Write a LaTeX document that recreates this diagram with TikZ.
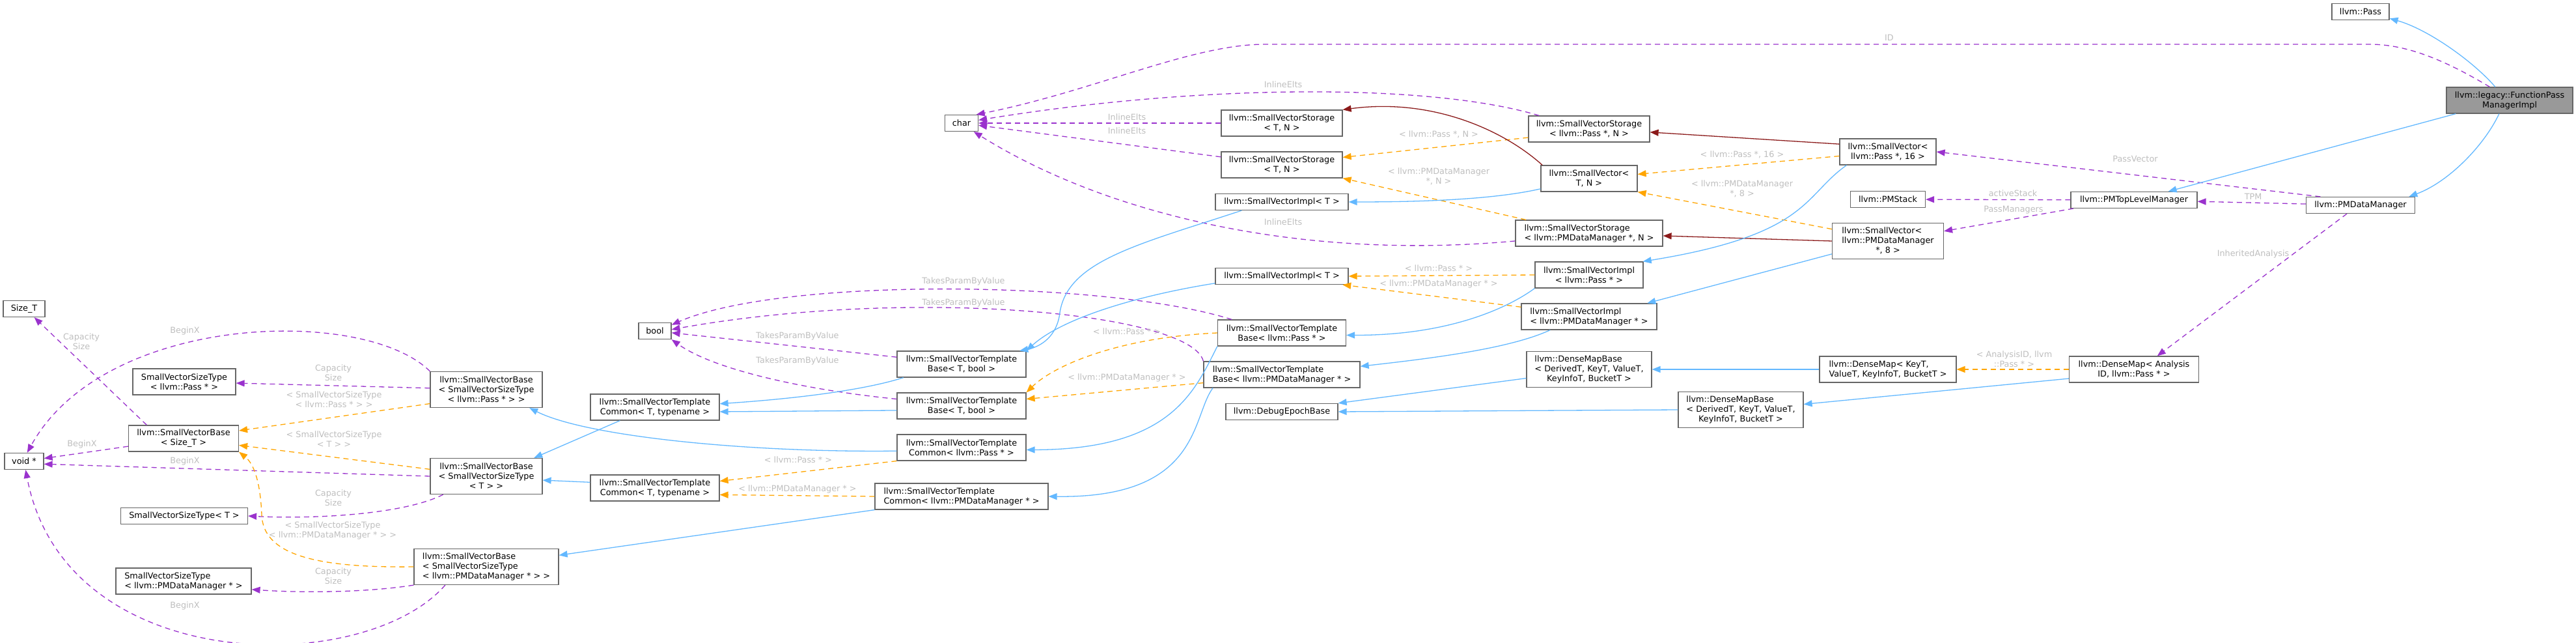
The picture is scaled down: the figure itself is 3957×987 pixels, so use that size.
\documentclass[tikz,border=0pt]{standalone}
\usepackage{fontspec}
\setmainfont{DejaVu Sans}
\usepackage{tikz}
\usetikzlibrary{arrows.meta}
\usepackage{xcolor}
\definecolor{inheritBlue}{RGB}{99, 184, 255}
\definecolor{usagePurple}{RGB}{154, 50, 205}
\definecolor{templOrange}{RGB}{255, 165, 0}
\definecolor{privateRed}{RGB}{139, 26, 26}
\definecolor{labelGray}{RGB}{190, 190, 190}
\definecolor{borderGray}{RGB}{102, 102, 102}
\definecolor{rootGray}{RGB}{153, 153, 153}
\newcommand{\docfont}{\fontsize{12.8}{15}\selectfont}
\newcommand{\lstack}[1]{\begin{tabular}{@{}l@{}}#1\end{tabular}}
\newcommand{\ctrrow}[1]{\multicolumn{1}{@{}c@{}}{#1}}

\begin{document}
\begin{tikzpicture}[
    x=1pt, y=1pt,
    cls/.style={
        rectangle, draw=borderGray, fill=white, line width=1.2pt, inner sep=1pt,
        align=center, font=\docfont, minimum width=#1, minimum height=25pt
    },
    twoline/.style={minimum height=40pt},
    threeline/.style={minimum height=55pt},
    lft/.style={align=left},
    arrow/.style={-{Triangle[length=13pt, width=10pt]}, line width=1.3pt, draw=#1},
    dep/.style={arrow=#1, dash pattern=on 8pt off 6pt},
    annot/.style={font=\docfont, text=labelGray, align=center, inner sep=0pt}
]
\useasboundingbox (0,0) rectangle (3957,-987);
\node[cls=64pt] (sizeT) at (37,-474) {Size\_T};
\node[cls=60pt] (voidPtr) at (37,-708) {void *};
\node[cls=158pt, twoline] (svstPass) at (283,-586) {SmallVectorSizeType\\< llvm::Pass * >};
\node[cls=169pt, twoline] (svbSizeT) at (282,-673) {llvm::SmallVectorBase\\< Size\_T >};
\node[cls=195pt] (svstT) at (283,-792) {SmallVectorSizeType< T >};
\node[cls=208pt, twoline, lft] (svstPMDM) at (282,-892) {SmallVectorSizeType\\< llvm::PMDataManager * >};
\node[cls=172pt, threeline] (svbPass) at (747,-598) {llvm::SmallVectorBase\\< SmallVectorSizeType\\< llvm::Pass * > >};
\node[cls=172pt, threeline] (svbT) at (747,-731) {llvm::SmallVectorBase\\< SmallVectorSizeType\\< T > >};
\node[cls=222pt, threeline, lft] (svbPMDM) at (747,-870) {llvm::SmallVectorBase\\< SmallVectorSizeType\\< llvm::PMDataManager * > >};
\node[cls=50pt] (boolT) at (1006,-508) {bool};
\node[cls=198pt, twoline] (svtcUpper) at (1006,-625) {llvm::SmallVectorTemplate\\Common< T, typename >};
\node[cls=198pt, twoline] (svtcLower) at (1006,-749) {llvm::SmallVectorTemplate\\Common< T, typename >};
\node[cls=51pt] (charT) at (1477,-189) {char};
\node[cls=198pt, twoline] (svtbUpper) at (1477,-559) {llvm::SmallVectorTemplate\\Base< T, bool >};
\node[cls=198pt, twoline] (svtbLower) at (1477,-623) {llvm::SmallVectorTemplate\\Base< T, bool >};
\node[cls=198pt, twoline] (svtcPass) at (1477,-687) {llvm::SmallVectorTemplate\\Common< llvm::Pass * >};
\node[cls=266pt, twoline, lft] (svtcPMDM) at (1477,-762) {llvm::SmallVectorTemplate\\Common< llvm::PMDataManager * >};
\node[cls=186pt, twoline] (storUpper) at (1969,-189) {llvm::SmallVectorStorage\\< T, N >};
\node[cls=186pt, twoline] (storLower) at (1969,-253) {llvm::SmallVectorStorage\\< T, N >};
\node[cls=204pt] (implUpper) at (1969,-310) {llvm::SmallVectorImpl< T >};
\node[cls=204pt] (implLower) at (1969,-424) {llvm::SmallVectorImpl< T >};
\node[cls=197pt, twoline] (svtbPass) at (1969,-511) {llvm::SmallVectorTemplate\\Base< llvm::Pass * >};
\node[cls=240pt, twoline, lft] (svtbPMDM) at (1969,-575) {llvm::SmallVectorTemplate\\Base< llvm::PMDataManager * >};
\node[cls=172pt] (debugEpoch) at (1969,-632) {llvm::DebugEpochBase};
\node[cls=186pt, twoline] (storPass) at (2441,-198) {llvm::SmallVectorStorage\\< llvm::Pass *, N >};
\node[cls=148pt, twoline] (svTN) at (2441,-274) {llvm::SmallVector<\\T, N >};
\node[cls=226pt, twoline, lft] (storPMDM) at (2441,-358) {llvm::SmallVectorStorage\\< llvm::PMDataManager *, N >};
\node[cls=166pt, twoline] (implPass) at (2441,-422) {llvm::SmallVectorImpl\\< llvm::Pass * >};
\node[cls=208pt, twoline, lft] (implPMDM) at (2441,-486) {llvm::SmallVectorImpl\\< llvm::PMDataManager * >};
\node[cls=192pt, threeline] (mapBaseUpper) at (2441,-567) {\lstack{llvm::DenseMapBase\\< DerivedT, KeyT, ValueT,\\\ctrrow{KeyInfoT, BucketT >}}};
\node[cls=192pt, threeline] (mapBaseLower) at (2674,-629) {\lstack{llvm::DenseMapBase\\< DerivedT, KeyT, ValueT,\\\ctrrow{KeyInfoT, BucketT >}}};
\node[cls=148pt, twoline] (sv16) at (2900,-233) {llvm::SmallVector<\\llvm::Pass *, 16 >};
\node[cls=115pt] (pmStack) at (2900,-306) {llvm::PMStack};
\node[cls=171pt, threeline] (sv8) at (2900,-370) {\lstack{llvm::SmallVector<\\\ctrrow{llvm::PMDataManager}\\\ctrrow{*, 8 >}}};
\node[cls=210pt, twoline, lft] (mapKey) at (2900,-567) {llvm::DenseMap< KeyT,\\ValueT, KeyInfoT, BucketT >};
\node[cls=194pt] (pmTop) at (3278,-307) {llvm::PMTopLevelManager};
\node[cls=199pt, twoline] (mapAID) at (3278,-567) {llvm::DenseMap< Analysis\\ID, llvm::Pass * >};
\node[cls=88pt] (passT) at (3626,-18) {llvm::Pass};
\node[cls=167pt] (pmData) at (3626,-315) {llvm::PMDataManager};
\node[cls=194pt, twoline, fill=rootGray] (fpmi) at (3855,-154) {llvm::legacy::FunctionPass\\ManagerImpl};
\draw[dep=usagePurple] (fpmi.146) .. controls (3760,-95) and (3700,-68) .. (3640,-68) -- (1943,-68) .. controls (1830,-68) and (1680,-140) .. (charT.30) node[annot] at (2902,-58) {ID};
\draw[dep=usagePurple] (storPass.165) .. controls (2200,-128) and (1850,-128) .. (charT.10) node[annot] at (1971,-130) {InlineElts};
\draw[dep=usagePurple] (storUpper.west) -- (charT.east) node[annot] at (1731,-180) {InlineElts};
\draw[dep=usagePurple] (storLower) -- (charT) node[annot] at (1731,-201) {InlineElts};
\draw[dep=usagePurple] (storPMDM.186) .. controls (2000,-400) and (1700,-330) .. (charT.-35) node[annot] at (1971,-341) {InlineElts};
\draw[dep=usagePurple] (svtbPass.165) .. controls (1700,-430) and (1200,-425) .. (boolT.20) node[annot] at (1480,-432) {TakesParamByValue};
\draw[dep=usagePurple] (svtbPMDM.north west) .. controls (1830,-480) and (1400,-440) .. (boolT.5) node[annot] at (1480,-465) {TakesParamByValue};
\draw[dep=usagePurple] (svtbUpper) -- (boolT) node[annot] at (1225,-516) {TakesParamByValue};
\draw[dep=usagePurple] (svtbLower.174) .. controls (1250,-600) and (1100,-570) .. (boolT.south east) node[annot] at (1225,-554) {TakesParamByValue};
\draw[dep=usagePurple] (svbPass.north west) .. controls (560,-470) and (160,-480) .. (voidPtr.70) node[annot] at (284,-508) {BeginX};
\draw[dep=usagePurple] (svbSizeT) -- (voidPtr) node[annot] at (126,-682) {BeginX};
\draw[dep=usagePurple] (svbT.west) -- (voidPtr.-8) node[annot] at (284,-708) {BeginX};
\draw[dep=usagePurple] (svbPMDM.204) .. controls (560,-1040) and (100,-1040) .. (voidPtr.-80) node[annot] at (284,-930) {BeginX};
\draw[dep=usagePurple] (svbSizeT.160) -- (sizeT.-40) node[annot] at (125,-524) {Capacity\\Size};
\draw[dep=usagePurple] (svbPass) -- (svstPass) node[annot] at (512,-572) {Capacity\\Size};
\draw[dep=usagePurple] (svbT.203) .. controls (620,-790) and (480,-797) .. (svstT.east) node[annot] at (512,-764) {Capacity\\Size};
\draw[dep=usagePurple] (svbPMDM.south west) .. controls (560,-910) and (460,-910) .. (svstPMDM.-7) node[annot] at (512,-884) {Capacity\\Size};
\draw[dep=usagePurple] (pmData.168) -- (sv16.east) node[annot] at (3280,-244) {PassVector};
\draw[dep=usagePurple] (pmTop) -- (pmStack) node[annot] at (3092,-297) {activeStack};
\draw[dep=usagePurple] (pmTop.188) -- (sv8.10) node[annot] at (3093,-322) {PassManagers};
\draw[dep=usagePurple] (pmData) -- (pmTop) node[annot] at (3461,-302) {TPM};
\draw[dep=usagePurple] (pmData.212) -- (mapAID.30) node[annot] at (3461,-390) {InheritedAnalysis};
\draw[dep=templOrange] (svbPass.194) -- (svbSizeT.8) node[annot] at (513,-613) {< SmallVectorSizeType\\< llvm::Pass * > >};
\draw[dep=templOrange] (svbT.173) -- (svbSizeT.-7) node[annot] at (513,-674) {< SmallVectorSizeType\\< T > >};
\draw[dep=templOrange] (svbPMDM.west) .. controls (480,-872) and (404,-850) .. (402,-790) .. controls (400,-740) and (390,-712) .. (svbSizeT.south east) node[annot] at (511,-814) {< SmallVectorSizeType\\< llvm::PMDataManager * > >};
\draw[dep=templOrange] (svtcPass.south west) -- (svtcLower.6) node[annot] at (1226,-706) {< llvm::Pass * >};
\draw[dep=templOrange] (svtcPMDM.west) -- (svtcLower.-6) node[annot] at (1225,-751) {< llvm::PMDataManager * >};
\draw[dep=templOrange] (svtbPass.west) .. controls (1720,-518) and (1620,-560) .. (svtbLower.north east) node[annot] at (1731,-509) {< llvm::Pass * >};
\draw[dep=templOrange] (svtbPMDM.186) -- (svtbLower.6) node[annot] at (1731,-580) {< llvm::PMDataManager * >};
\draw[dep=templOrange] (implPass.west) -- (implLower.east) node[annot] at (2210,-412) {< llvm::Pass * >};
\draw[dep=templOrange] (implPMDM.172) -- (implLower.-8) node[annot] at (2210,-436) {< llvm::PMDataManager * >};
\draw[dep=templOrange] (storPass.188) -- (storLower.7) node[annot] at (2210,-206) {< llvm::Pass *, N >};
\draw[dep=templOrange] (storPMDM.168) -- (storLower.south east) node[annot] at (2210,-271) {< llvm::PMDataManager\\*, N >};
\draw[dep=templOrange] (sv16.185) -- (svTN.5) node[annot] at (2676,-237) {< llvm::Pass *, 16 >};
\draw[dep=templOrange] (sv8.168) -- (svTN.south east) node[annot] at (2676,-290) {< llvm::PMDataManager\\*, 8 >};
\draw[dep=templOrange] (mapAID.west) -- (mapKey.east) node[annot] at (3094,-551) {< AnalysisID, llvm\\::Pass * >};
\draw[arrow=privateRed] (svTN.164) .. controls (2310,-200) and (2200,-150) .. (storUpper.north east);
\draw[arrow=privateRed] (sv16.171) -- (storPass.-3);
\draw[arrow=privateRed] (sv8.west) -- (storPMDM.-2);
\draw[arrow=inheritBlue] (fpmi.137) .. controls (3800,-95) and (3730,-45) .. (passT.-13);
\draw[arrow=inheritBlue] (fpmi.194) -- (pmTop.14);
\draw[arrow=inheritBlue] (fpmi.232) .. controls (3815,-225) and (3760,-280) .. (pmData.10);
\draw[arrow=inheritBlue] (svTN.192) .. controls (2300,-305) and (2200,-310) .. (implUpper.east);
\draw[arrow=inheritBlue] (sv16.198) .. controls (2770,-300) and (2780,-360) .. (implPass.14);
\draw[arrow=inheritBlue] (sv8.193) -- (implPMDM.13);
\draw[arrow=inheritBlue] (implUpper.192) .. controls (1750,-375) and (1640,-400) .. (1628,-480) .. controls (1624,-515) and (1600,-532) .. (svtbUpper.13);
\draw[arrow=inheritBlue] (implLower.186) .. controls (1740,-455) and (1630,-490) .. (svtbUpper.north east);
\draw[arrow=inheritBlue] (implPass.south west) .. controls (2320,-470) and (2230,-515) .. (svtbPass.-2);
\draw[arrow=inheritBlue] (implPMDM.199) .. controls (2320,-535) and (2200,-550) .. (svtbPMDM.6);
\draw[arrow=inheritBlue] (svtbUpper.193) .. controls (1340,-595) and (1250,-610) .. (svtcUpper.3);
\draw[arrow=inheritBlue] (svtbLower.184) -- (svtcUpper.-4);
\draw[arrow=inheritBlue] (svtbPass.south west) .. controls (1835,-600) and (1800,-690) .. (svtcPass.-2);
\draw[arrow=inheritBlue] (svtbPMDM.191) .. controls (1830,-640) and (1845,-765) .. (svtcPMDM.east);
\draw[arrow=inheritBlue] (svtcUpper.201) -- (svbT.21);
\draw[arrow=inheritBlue] (svtcLower.175) -- (svbT.-4);
\draw[arrow=inheritBlue] (svtcPass.183) .. controls (1150,-695) and (900,-670) .. (svbPass.-23);
\draw[arrow=inheritBlue] (svtcPMDM.south west) -- (svbPMDM.9);
\draw[arrow=inheritBlue] (mapBaseUpper.188) -- (debugEpoch.north east);
\draw[arrow=inheritBlue] (mapBaseLower.west) -- (debugEpoch.east);
\draw[arrow=inheritBlue] (mapKey.west) -- (mapBaseUpper.east);
\draw[arrow=inheritBlue] (mapAID.188) -- (mapBaseLower.5);
\end{tikzpicture}
\end{document}
